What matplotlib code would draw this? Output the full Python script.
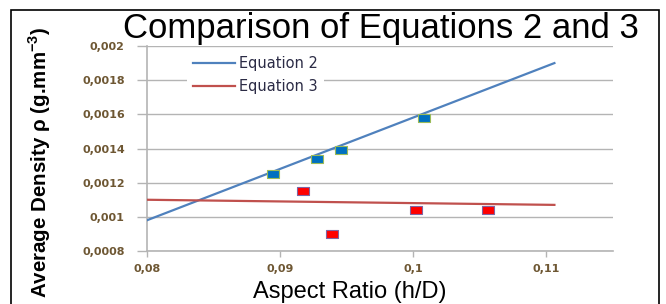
""" Comparison of Equations 2 and 3 - average density vs aspect ratio
"""
import numpy as np
import matplotlib.pyplot as plt
import matplotlib.patches as pat

# data
eq2_x = [0.0895, 0.0928, 0.0946, 0.1008]
eq2_y = [0.00125, 0.00134, 0.00139, 0.00158]
eq3_x = [0.0917, 0.0939, 0.1002, 0.1056]
eq3_y = [0.00115, 0.00090, 0.00104, 0.00104]
# fitted lines (end points)
fit2_x = [0.08, 0.1106]
fit2_y = [0.00098, 0.00190]
fit3_x = [0.08, 0.1106]
fit3_y = [0.00110, 0.00107]
# ticks
xticks = [0.08, 0.09, 0.10, 0.11]
xtick_labels = ['0,08', '0,09', '0,1', '0,11']
yticks = [0.0008, 0.0010, 0.0012, 0.0014, 0.0016, 0.0018, 0.0020]
ytick_labels = ['0,0008', '0,001', '0,0012', '0,0014', '0,0016', '0,0018', '0,002']

# fig config
fig_size = (6.66, 3.04)
dpi = 100
ax_rect = [0.2207, 0.1743, 0.6997, 0.6744]
blue_line = '#4f81bd'
red_line = '#c0504d'
tick_color = '#6e5733'
grid_color = '#b4b4b4'
rect_mark = [(-1.5, -1), (1.5, -1), (1.5, 1), (-1.5, 1), (-1.5, -1)]

fig = plt.figure(figsize=fig_size, dpi=dpi)
ax = fig.add_axes(ax_rect)

# lines & points
ax.plot(fit2_x, fit2_y, color=blue_line, lw=1.6, label='Equation 2', zorder=3)
ax.plot(fit3_x, fit3_y, color=red_line, lw=1.6, label='Equation 3', zorder=3)
ax.plot(eq2_x, eq2_y, ls='none', marker=rect_mark, ms=8, mfc='#0070c0',
        mec='#9bbb59', mew=0.8, zorder=4)
ax.plot(eq3_x, eq3_y, ls='none', marker=rect_mark, ms=8, mfc='#ff0000',
        mec='#8064a2', mew=0.8, zorder=4)

ax.set_xlim(0.08, 0.115)
ax.set_ylim(0.0008, 0.002)
ax.set_xticks(xticks)
ax.set_xticklabels(xtick_labels)
ax.set_yticks(yticks)
ax.set_yticklabels(ytick_labels)
ax.grid(True, axis='y', color=grid_color, lw=1.0)
ax.set_axisbelow(True)
for s in ['top', 'right']:
    ax.spines[s].set_visible(False)
for s in ['left', 'bottom']:
    ax.spines[s].set_color(grid_color)
    ax.spines[s].set_linewidth(1.2)
ax.tick_params(axis='y', length=7, width=1.0, color=grid_color, pad=9,
               labelsize=8, labelcolor=tick_color)
ax.tick_params(axis='x', length=4, width=1.0, color=grid_color, pad=5,
               labelsize=8, labelcolor=tick_color)
plt.setp(ax.get_xticklabels() + ax.get_yticklabels(), fontweight='bold')

# legend
leg = ax.legend(loc='upper left', bbox_to_anchor=(0.07, 1.015), frameon=True,
                fancybox=False, edgecolor='none', facecolor='white', framealpha=1,
                fontsize=10.5, handlelength=2.9, handletextpad=0.3, labelspacing=0.55,
                borderpad=0.4)
for t in leg.get_texts():
    t.set_color('#2b2b45')

# texts
fig.text(0.572, 1 - 38/304, 'Comparison of Equations 2 and 3', ha='center',
         va='baseline', fontsize=25, family='Liberation Sans')
fig.text(0.525, 0.039, 'Aspect Ratio (h/D)', ha='center', va='center',
         fontsize=17, family='Liberation Sans')
fig.text(0.059, 0.467, r'Average Density ρ (g.mm$^{\mathregular{-3}}$)', rotation=90,
         ha='center', va='center', fontsize=14.8, fontweight='bold',
         family=['Liberation Sans', 'DejaVu Sans'])

# outer frame
frame = pat.Rectangle((11/666, -0.1), (659-11)/666, (304-10)/304 + 0.1,
                      transform=fig.transFigure, fill=False, edgecolor='black',
                      lw=1.2, clip_on=False)
fig.patches.append(frame)

plt.savefig('out.png', dpi=dpi)
